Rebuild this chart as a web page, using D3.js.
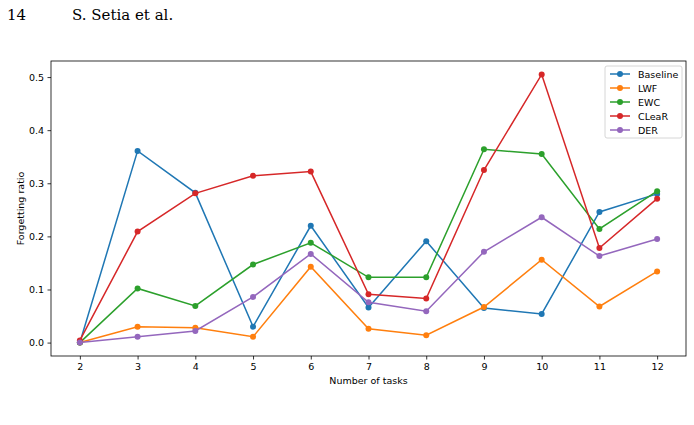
<!DOCTYPE html>
<html>
<head>
<meta charset="utf-8">
<script src="https://cdn.jsdelivr.net/npm/d3@7"></script>
<style>
  body { margin: 0; background: #fff; }
  svg text { font-family: "DejaVu Sans", sans-serif; fill: #000; }
</style>
</head>
<body>
<div id="chart"></div>
<script>
const tasks = [2, 3, 4, 5, 6, 7, 8, 9, 10, 11, 12];
const seriesNames = ["Baseline", "LWF", "EWC", "CLeaR", "DER"];
const baseline = [0.000, 0.361, 0.282, 0.030, 0.220, 0.066, 0.191, 0.065, 0.054, 0.246, 0.280];
const lwf      = [0.000, 0.030, 0.028, 0.011, 0.143, 0.026, 0.014, 0.067, 0.156, 0.068, 0.134];
const ewc      = [0.000, 0.102, 0.069, 0.147, 0.188, 0.123, 0.123, 0.364, 0.355, 0.214, 0.285];
const clear    = [0.004, 0.209, 0.281, 0.314, 0.322, 0.091, 0.083, 0.325, 0.505, 0.178, 0.271];
const der      = [0.000, 0.011, 0.022, 0.086, 0.167, 0.076, 0.059, 0.171, 0.236, 0.163, 0.195];
const yTicks = [0.0, 0.1, 0.2, 0.3, 0.4, 0.5];
const colors = ["#1f77b4", "#ff7f0e", "#2ca02c", "#d62728", "#9467bd"];

const allSeries = [baseline, lwf, ewc, clear, der];

const W = 694, H = 425;
const margin = {top: 61, right: 8, bottom: 69, left: 51},
    width = W - margin.left - margin.right,
    height = H - margin.top - margin.bottom;

const root = d3.select("#chart")
    .append("svg")
    .attr("width", W)
    .attr("height", H);

// page header
root.append("text")
    .attr("x", 7).attr("y", 20)
    .style("font-family", "'DejaVu Serif', serif")
    .style("font-size", "15px")
    .text("14");
root.append("text")
    .attr("x", 72).attr("y", 20)
    .style("font-family", "'DejaVu Serif', serif")
    .style("font-size", "15px")
    .text("S. Setia et al.");

const svg = root.append("g")
    .attr("transform", `translate(${margin.left},${margin.top})`);

const xScale = d3.scaleLinear()
    .domain([1.5, 12.5])
    .range([0, width]);

const yMax = 0.505;
const yScale = d3.scaleLinear()
    .domain([-yMax * 0.05, yMax * 1.05])
    .range([height, 0]);

const xAxis = svg.append("g")
    .attr("transform", `translate(0, ${height})`)
    .call(d3.axisBottom(xScale).tickValues(tasks).tickFormat(d3.format("d")).tickSize(3.5).tickPadding(3.4));

const yAxis = svg.append("g")
    .call(d3.axisLeft(yScale).tickValues(yTicks).tickFormat(d3.format(".1f")).tickSize(3.5).tickPadding(3.4));

[xAxis, yAxis].forEach(a => {
    a.select(".domain").remove();
    a.selectAll("line").attr("stroke", "#000").attr("stroke-width", 0.8);
    a.selectAll("text").style("font-size", "9.5px").style("font-family", "'DejaVu Sans', sans-serif");
});

// frame
svg.append("rect")
    .attr("x", 0).attr("y", 0)
    .attr("width", width).attr("height", height)
    .attr("fill", "none")
    .attr("stroke", "#000")
    .attr("stroke-width", 0.8);

svg.append("text")
    .attr("x", width / 2)
    .attr("y", 384 - margin.top)
    .attr("text-anchor", "middle")
    .style("font-size", "9.5px")
    .text("Number of tasks");

svg.append("text")
    .attr("transform", `translate(${24 - margin.left}, ${height / 2}) rotate(-90)`)
    .attr("text-anchor", "middle")
    .style("font-size", "9.5px")
    .text("Forgetting ratio");

const line = d3.line()
    .x((d, i) => xScale(tasks[i]))
    .y(d => yScale(d));

allSeries.forEach((vals, k) => {
    const g = svg.append("g");
    g.append("path")
        .datum(vals)
        .attr("d", line)
        .attr("fill", "none")
        .attr("stroke", colors[k])
        .attr("stroke-width", 1.5);
    g.selectAll("circle")
        .data(vals)
        .join("circle")
        .attr("cx", (d, i) => xScale(tasks[i]))
        .attr("cy", d => yScale(d))
        .attr("r", 3)
        .attr("fill", colors[k]);
});

// legend
const legend = svg.append("g")
    .attr("transform", `translate(${605 - margin.left}, ${66 - margin.top})`);

legend.append("rect")
    .attr("width", 77).attr("height", 72)
    .attr("rx", 2)
    .attr("fill", "#fff").attr("fill-opacity", 0.8)
    .attr("stroke", "#ccc").attr("stroke-width", 0.8);

seriesNames.forEach((name, k) => {
    const y = 8 + k * 14;
    legend.append("line")
        .attr("x1", 5).attr("x2", 25)
        .attr("y1", y).attr("y2", y)
        .attr("stroke", colors[k]).attr("stroke-width", 1.5);
    legend.append("circle")
        .attr("cx", 15).attr("cy", y).attr("r", 3)
        .attr("fill", colors[k]);
    legend.append("text")
        .attr("x", 33).attr("y", y + 3.5)
        .style("font-size", "9.5px")
        .text(name);
});
</script>
</body>
</html>
